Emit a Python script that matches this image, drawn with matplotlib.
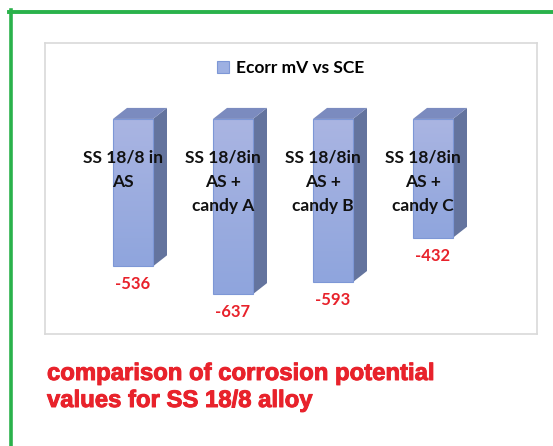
import matplotlib.pyplot as plt
import matplotlib.patheffects as pe
import numpy as np
from matplotlib.patches import Polygon, Patch
from matplotlib.lines import Line2D
from matplotlib.colors import LinearSegmentedColormap

# data
categories = ["SS 18/8 in\nAS", "SS 18/8in\nAS +\ncandy A",
              "SS 18/8in\nAS +\ncandy B", "SS 18/8in\nAS +\ncandy C"]
ecorr = [-536, -637, -593, -432]
series_name = "Ecorr mV vs SCE"
caption = ["comparison of corrosion potential", "values for SS 18/8 alloy"]

red = "#e8222b"
front_top, front_bot = "#aab5e2", "#8fa5dd"
side_col = "#64749e"
top_col = "#7b8bbf"
edge_col = "#7d97d6"

fig = plt.figure(figsize=(5.53, 4.46), dpi=100)
W, H = 553, 446

# green frame (top + left only)
fig.add_artist(Line2D([9 / W, 1], [1 - 11.5 / H, 1 - 11.5 / H], color="#2ab24b", lw=2.8))
fig.add_artist(Line2D([11 / W, 11 / W], [0, 1 - 9.5 / H], color="#2ab24b", lw=2.6))

# chart area
ax = fig.add_axes([45 / W, 1 - 334 / H, (537 - 45) / W, (334 - 43) / H])
for s in ax.spines.values():
    s.set_color("#d9d9d9")
    s.set_linewidth(1.2)
ax.set_xticks([])
ax.set_yticks([])

x = np.arange(len(ecorr))
width = 0.4
depth_x = 0.14   # category units
depth_y = 40     # mV

cmap = LinearSegmentedColormap.from_list("g", [front_top, front_bot])
grad = np.linspace(0, 1, 100).reshape(-1, 1)

bars = ax.bar(x, ecorr, width=width, color="none", edgecolor=edge_col, linewidth=0.8, zorder=3)
for xi, v, b in zip(x, ecorr, bars):
    x0, x1 = xi - width / 2, xi + width / 2
    im = ax.imshow(grad, extent=[x0, x1, v, 0], aspect="auto", cmap=cmap, zorder=2)
    im.set_clip_path(b)
    ax.add_patch(Polygon([(x1, 0), (x1 + depth_x, depth_y), (x1 + depth_x, v + depth_y), (x1, v)],
                         closed=True, facecolor=side_col, edgecolor="none", zorder=2))
    ax.add_patch(Polygon([(x0, 0), (x1, 0), (x1 + depth_x, depth_y), (x0 + depth_x, depth_y)],
                         closed=True, facecolor=top_col, edgecolor="none", zorder=2))
    ax.annotate(f"{v}", (xi, v), xytext=(0, -13), textcoords="offset points",
                ha="center", va="center", color=red, fontsize=12,
                fontweight="bold", family="Lato", zorder=5)

for xi, cat in zip(x, categories):
    for j, line in enumerate(cat.split("\n")):
        ax.annotate(line, (xi - 0.1, 0), xytext=(0, -31.5 - 17.3 * j), textcoords="offset points",
                    ha="center", va="baseline", color="#111111", fontsize=12.5,
                    fontweight="bold", family="Lato", zorder=6)

ax.set_xlim(-0.88, 4.04)
ax.set_ylim(-782, 276)

handle = Patch(facecolor="#9db0e2", edgecolor=edge_col, linewidth=0.8)
ax.legend([handle], [series_name], loc="center", bbox_to_anchor=(0.5, 0.914),
          frameon=False, handlelength=0.7, handleheight=0.7, handletextpad=0.4,
          prop=dict(family="Lato", weight="bold", size=12.5))

for k, line in enumerate(caption):
    fig.text(47 / W, 1 - (380 + 27 * k) / H, line, ha="left", va="baseline",
             color=red, fontsize=17.2, fontweight="bold", family="Liberation Sans",
             path_effects=[pe.withStroke(linewidth=0.7, foreground=red)])

fig.savefig("out.png", dpi=100)
